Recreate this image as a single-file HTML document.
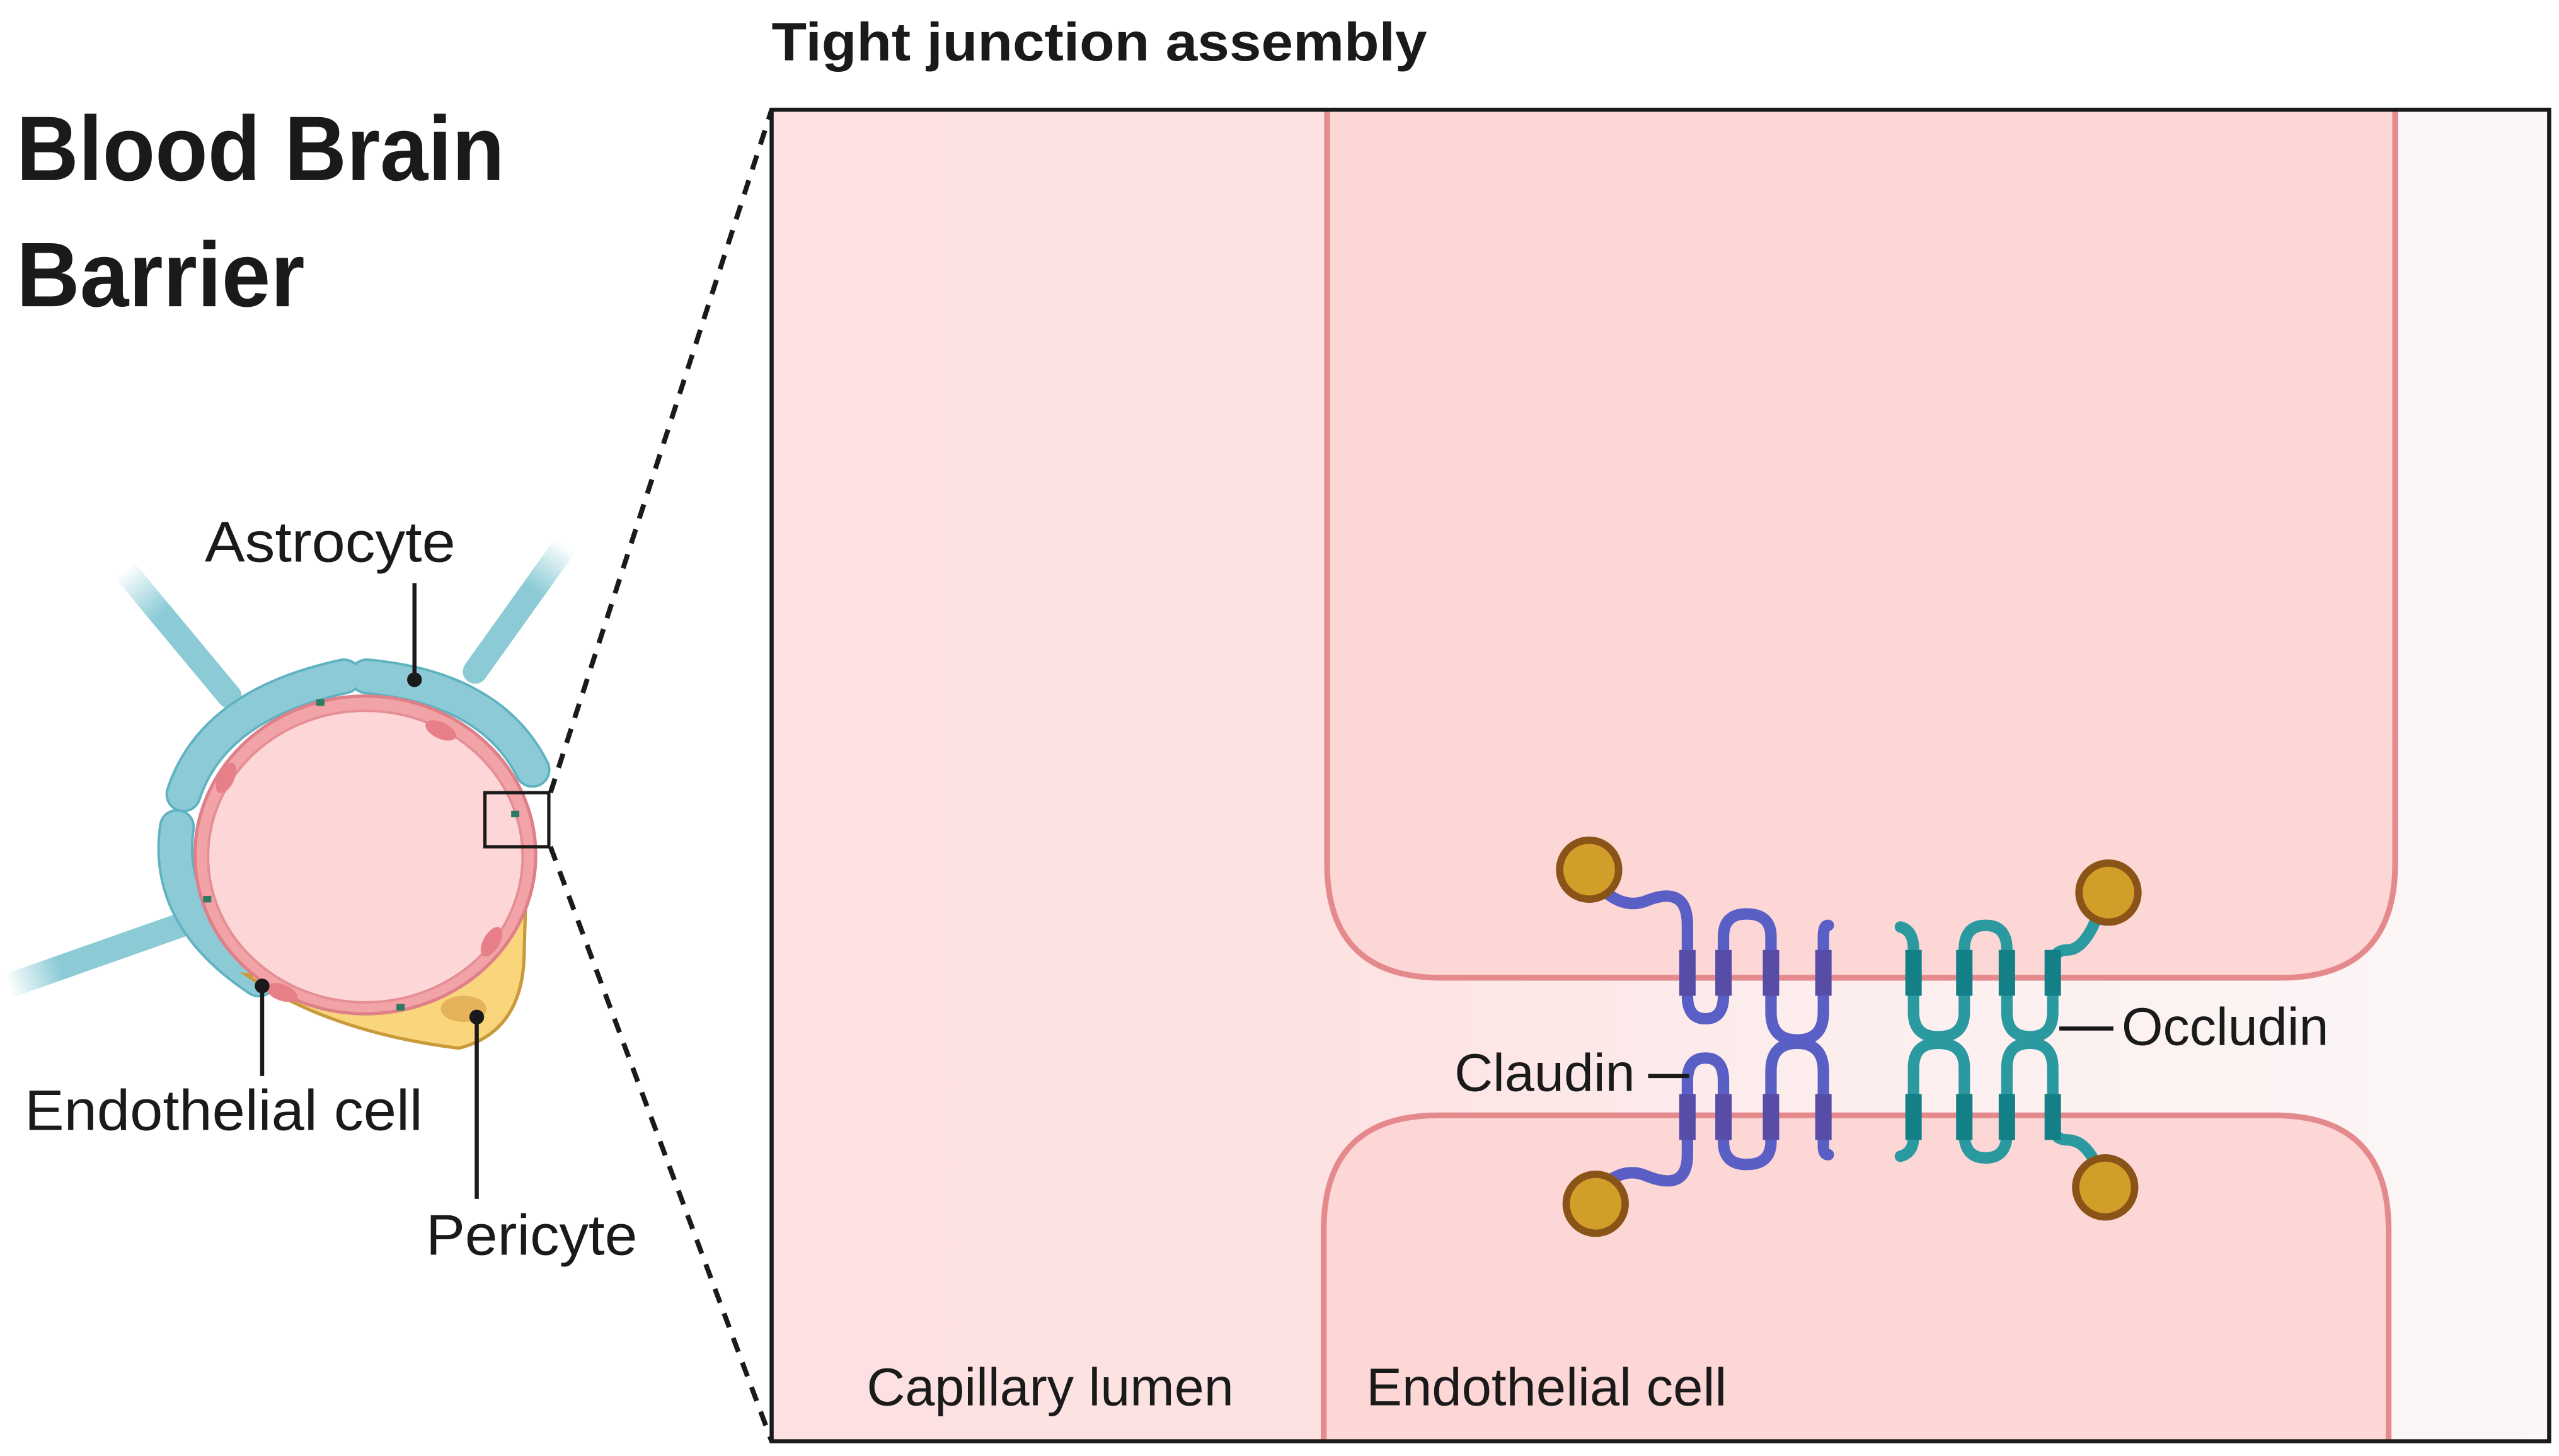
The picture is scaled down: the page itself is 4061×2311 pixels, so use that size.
<!DOCTYPE html>
<html><head><meta charset="utf-8"><style>
html,body{margin:0;padding:0;background:#fff;width:4061px;height:2311px;overflow:hidden}
svg{display:block}
text{font-family:"Liberation Sans",Arial,sans-serif;fill:#1a1a1a}
</style></head><body>
<svg width="4061" height="2311" viewBox="0 0 1562 889" preserveAspectRatio="none" xmlns="http://www.w3.org/2000/svg">
<defs>
<linearGradient id="bg" x1="0" y1="0" x2="1" y2="0">
<stop offset="0" stop-color="#fde1e2"/><stop offset="0.31" stop-color="#fde2e2"/><stop offset="0.6" stop-color="#fdeeee"/><stop offset="1" stop-color="#fbf7f7"/>
</linearGradient>
<linearGradient id="g1" gradientUnits="userSpaceOnUse" x1="76" y1="348" x2="140" y2="425"><stop offset="0" stop-color="#8ccbd6" stop-opacity="0"/><stop offset="0.35" stop-color="#8ccbd6"/></linearGradient>
<linearGradient id="g2" gradientUnits="userSpaceOnUse" x1="345" y1="333" x2="290" y2="410"><stop offset="0" stop-color="#8ccbd6" stop-opacity="0"/><stop offset="0.35" stop-color="#8ccbd6"/></linearGradient>
<linearGradient id="g3" gradientUnits="userSpaceOnUse" x1="5" y1="602" x2="110" y2="565"><stop offset="0" stop-color="#8ccbd6" stop-opacity="0"/><stop offset="0.3" stop-color="#8ccbd6"/></linearGradient>
</defs>
<text x="471" y="37" font-size="33" font-weight="bold" textLength="400" lengthAdjust="spacingAndGlyphs">Tight junction assembly</text>
<text x="10" y="110" font-size="56" font-weight="bold" textLength="298" lengthAdjust="spacingAndGlyphs">Blood Brain</text>
<text x="10" y="187" font-size="56" font-weight="bold" textLength="176" lengthAdjust="spacingAndGlyphs">Barrier</text>

<rect x="471" y="67" width="1085" height="813" fill="url(#bg)"/>
<path d="M810 67 V527 Q810 597 880 597 H1392 Q1462 597 1462 527 V67" fill="#fdd6d6" stroke="#e58a8c" stroke-width="3.5"/>
<path d="M808 880 V751 Q808 681 878 681 H1388 Q1458 681 1458 751 V880" fill="#fdd6d6" stroke="#e58a8c" stroke-width="3.5"/>
<rect x="471" y="67" width="1085" height="813" fill="none" stroke="#1a1a1a" stroke-width="2.5"/>
<text x="529" y="858" font-size="32.5" textLength="224" lengthAdjust="spacingAndGlyphs">Capillary lumen</text>
<text x="834" y="858" font-size="32.5" textLength="220" lengthAdjust="spacingAndGlyphs">Endothelial cell</text>

<line x1="336" y1="484" x2="471" y2="67" stroke="#1a1a1a" stroke-width="3" stroke-dasharray="9,7"/>
<line x1="336" y1="517" x2="471" y2="880" stroke="#1a1a1a" stroke-width="3" stroke-dasharray="9,7"/>

<g fill="none" stroke-linecap="round" stroke-linejoin="round">
<g stroke="#5a5fc6" stroke-width="7">
<path d="M975 540 Q990 556 1005 550 Q1030 540 1030 565 V608 Q1030 622 1041 622 Q1052 622 1052 608 V572 Q1052 558 1066 558 Q1081 558 1081 572 V618 Q1081 635 1097 635 Q1113 635 1113 618 V572 Q1113 565 1116 565"/>
<path d="M978 724 Q992 712 1005 718 Q1030 728 1030 705 V660 Q1030 646 1041 646 Q1052 646 1052 660 V697 Q1052 711 1066 711 Q1081 711 1081 697 V654 Q1081 637 1097 637 Q1113 637 1113 654 V700 Q1113 705 1116 705"/>
</g>
<g stroke="#574ca6" stroke-width="10" stroke-linecap="butt">
<path d="M1030 580 V608 M1052 580 V608 M1081 580 V608 M1113 580 V608"/>
<path d="M1030 668 V696 M1052 668 V696 M1081 668 V696 M1113 668 V696"/>
</g>
<g stroke="#2a9aa0" stroke-width="7">
<path d="M1160 566 Q1168 568 1168 580 V618 Q1168 633 1183 633 Q1199 633 1199 618 V580 Q1199 565 1212 565 Q1225 565 1225 580 V618 Q1225 633 1239 633 Q1253 633 1253 618 V590 Q1253 580 1262 580 Q1272 580 1280 560"/>
<path d="M1160 706 Q1168 704 1168 694 V652 Q1168 637 1183 637 Q1199 637 1199 652 V692 Q1199 707 1212 707 Q1225 707 1225 692 V652 Q1225 637 1239 637 Q1253 637 1253 652 V686 Q1253 696 1262 696 Q1272 696 1279 710"/>
</g>
<g stroke="#137f86" stroke-width="10" stroke-linecap="butt">
<path d="M1168 580 V608 M1199 580 V608 M1225 580 V608 M1253 580 V608"/>
<path d="M1168 668 V696 M1199 668 V696 M1225 668 V696 M1253 668 V696"/>
</g>
</g>
<g fill="#d19e2a" stroke="#8a5418" stroke-width="4.5">
<circle cx="970" cy="531" r="18"/><circle cx="974" cy="735" r="18"/>
<circle cx="1287" cy="545" r="18"/><circle cx="1285" cy="725" r="18"/>
</g>
<line x1="1006" y1="657" x2="1031" y2="657" stroke="#1a1a1a" stroke-width="2.5"/>
<text x="998" y="666" font-size="32.5" text-anchor="end">Claudin</text>
<line x1="1257" y1="628" x2="1290" y2="628" stroke="#1a1a1a" stroke-width="2.5"/>
<text x="1295" y="638" font-size="32.5">Occludin</text>

<!-- Left vessel diagram -->
<g stroke-linecap="round" stroke-linejoin="round" fill="none">
<path d="M76 348 L140 425" stroke="url(#g1)" stroke-width="15"/>
<path d="M345 333 L290 410" stroke="url(#g2)" stroke-width="15"/>
<path d="M5 602 L110 565" stroke="url(#g3)" stroke-width="15"/>
<g stroke="#5fb2c2" stroke-width="22">
<path d="M112 485 Q130 430 210 413"/><path d="M224 413 Q300 420 325 470"/>
<path d="M108 505 Q100 560 158 598"/>
</g>
<g stroke="#8ccbd6" stroke-width="19">
<path d="M112 485 Q130 430 210 413"/><path d="M224 413 Q300 420 325 470"/>
<path d="M108 505 Q100 560 158 598"/>
</g>
</g>
<path d="M150 595 Q200 630 280 640 Q320 630 320 580 L322 510 Q300 560 200 600 Z" fill="#f9d67c" stroke="#c99a3a" stroke-width="2"/>
<ellipse cx="283" cy="616" rx="14" ry="8" fill="#e5b35a"/>
<ellipse cx="223" cy="522" rx="104" ry="97" fill="#f1a3a8" stroke="#df7f88" stroke-width="2"/>
<ellipse cx="223" cy="523" rx="96" ry="89" fill="#fdd6d7" stroke="#e58e95" stroke-width="1.5"/>
<g fill="#e77f88">
<ellipse cx="269" cy="446" rx="10" ry="5" transform="rotate(25 269 446)"/>
<ellipse cx="138" cy="475" rx="5" ry="10" transform="rotate(25 138 475)"/>
<ellipse cx="300" cy="575" rx="5" ry="10" transform="rotate(30 300 575)"/>
<ellipse cx="172" cy="606" rx="10" ry="5" transform="rotate(20 172 606)"/>
</g>
<g fill="#2d7a63">
<rect x="193" y="427" width="5" height="4"/><rect x="312" y="495" width="5" height="4"/>
<rect x="124" y="547" width="5" height="4"/><rect x="242" y="613" width="5" height="4"/>
</g>
<rect x="296" y="484" width="39" height="33" fill="none" stroke="#1a1a1a" stroke-width="2"/>
<text x="125" y="343" font-size="35" textLength="153" lengthAdjust="spacingAndGlyphs">Astrocyte</text>
<line x1="253" y1="356" x2="253" y2="415" stroke="#1a1a1a" stroke-width="2.5"/><circle cx="253" cy="415" r="4.5" fill="#1a1a1a"/>
<text x="15" y="690" font-size="35" textLength="243" lengthAdjust="spacingAndGlyphs">Endothelial cell</text>
<line x1="160" y1="602" x2="160" y2="657" stroke="#1a1a1a" stroke-width="2.5"/><circle cx="160" cy="602" r="4.5" fill="#1a1a1a"/>
<text x="260" y="766" font-size="35" textLength="129" lengthAdjust="spacingAndGlyphs">Pericyte</text>
<line x1="291" y1="621" x2="291" y2="732" stroke="#1a1a1a" stroke-width="2.5"/><circle cx="291" cy="621" r="4.5" fill="#1a1a1a"/>
</svg>
</body></html>
